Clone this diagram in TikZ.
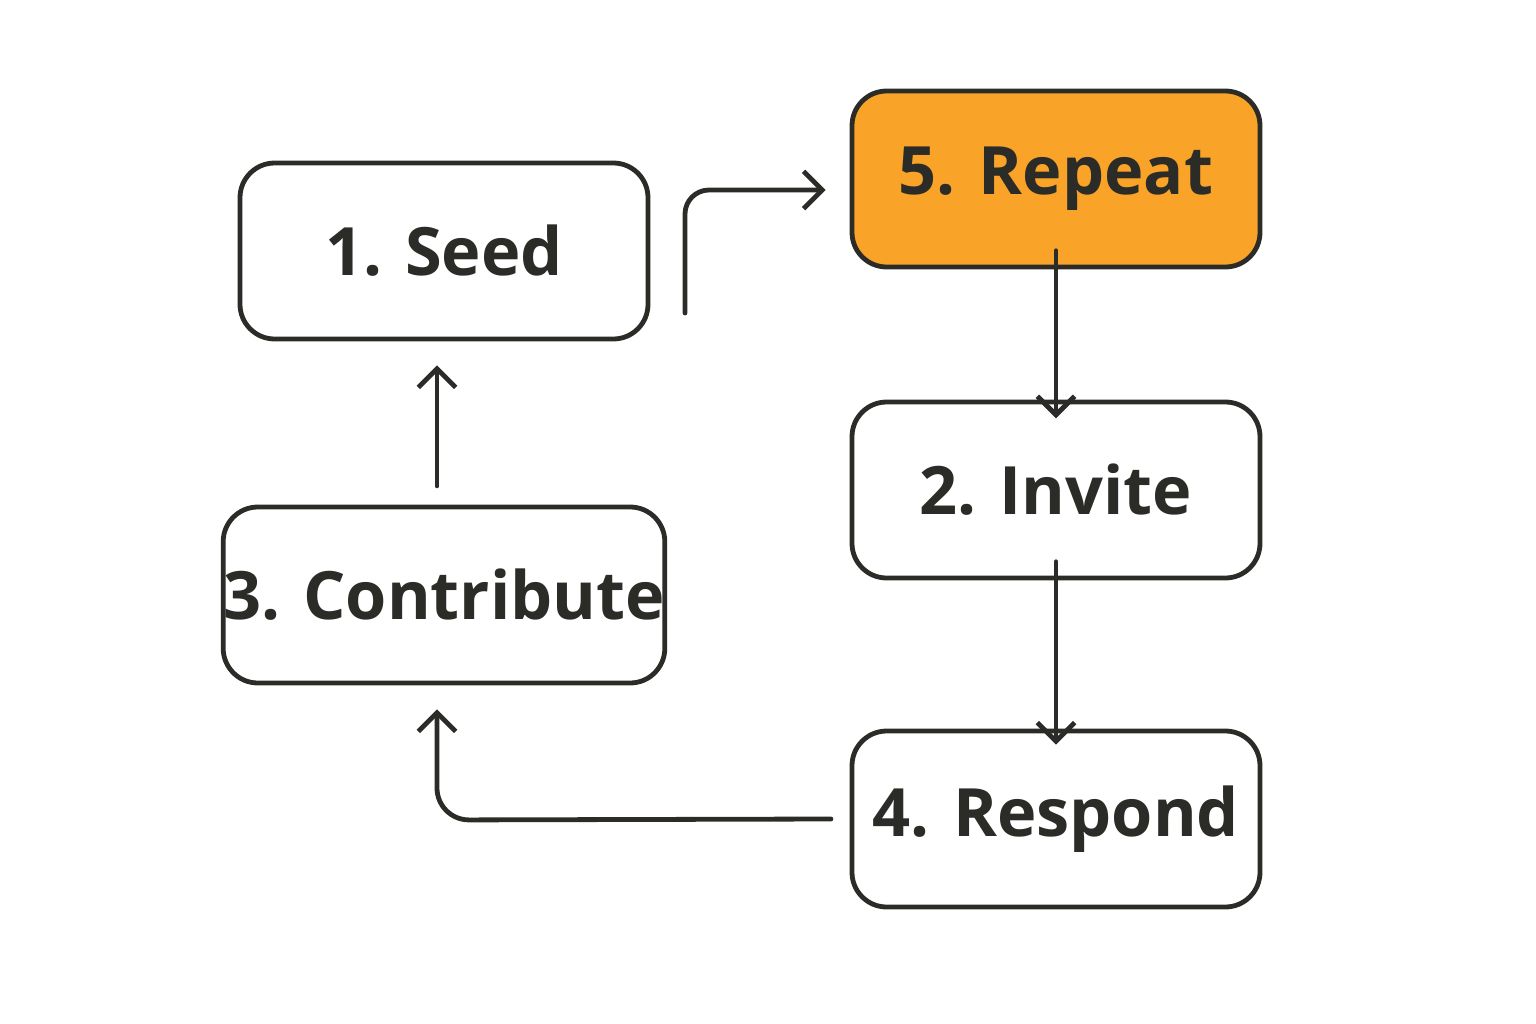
\documentclass[tikz,border=0pt]{standalone}
\usepackage{fontspec}
\setmainfont{Open Sans}
\usepackage{xcolor}
\usetikzlibrary{positioning, arrows.meta}
\definecolor{ink}{HTML}{2B2B27}
\definecolor{repeatfill}{HTML}{F9A428}
\tikzset{
  stage/.style={draw=ink, line width=3.6pt, rounded corners=26pt, fill=white,
    minimum width=306pt, minimum height=132pt, inner sep=0pt,
    text=ink, font=\fontsize{50}{58}\selectfont\bfseries},
  flow/.style={draw=ink, line width=3.6pt, line cap=round,
    -{Straight Barb[length=14pt, width=28pt, line width=3.6pt]}}
}
\begin{document}
\begin{tikzpicture}[x=0.75pt,y=0.75pt,yscale=-1,xscale=1]
\useasboundingbox (0,0) rectangle (1536,1024);

% stages
\node[stage] (seed) at (444,251) {1. Seed};
\node[stage, fill=repeatfill] (repeat) at (1056,179) {5. Repeat};
\node[stage] (invite) at (1056,490) {2. Invite};
\node[stage] (contribute) at (444,595) {3. Contribute};
\node[stage] (respond) at (1056,819) {4. Respond};

% free ends
\coordinate (seedout) at (685,313);
\coordinate (seedturn) at (685,190);
\coordinate (contribturn) at (437,820);

% connectors
\draw[flow, rounded corners=18pt] (seedout) -- (seedturn) -- ([xshift=-18pt]repeat.west |- seedturn);
\draw[flow] ([yshift=-14pt]repeat.south) -- ([yshift=14pt]invite.north);
\draw[flow] ([yshift=-14pt]invite.south) -- ([yshift=12pt]respond.north);
\draw[flow, rounded corners=24pt] ([xshift=-14pt]respond.west) -- (contribturn) -- ([yshift=18pt]contribute.south -| contribturn);
\draw[flow] ([yshift=-14pt]contribute.north -| contribturn) -- ([yshift=18pt]seed.south -| contribturn);

\end{tikzpicture}
\end{document}
